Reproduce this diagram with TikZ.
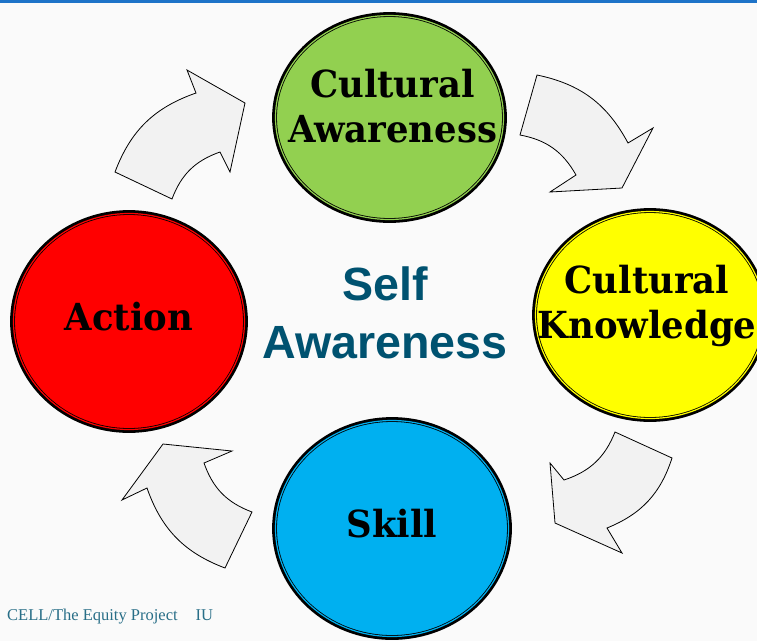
\documentclass[tikz,border=0pt]{standalone}
\usepackage{fontspec}
\setmainfont{Liberation Serif}
\newfontfamily\ringfont[FakeStretch=0.95]{DejaVu Serif}
\newfontfamily\centerfont{Liberation Sans}
\usetikzlibrary{positioning,shapes.geometric}

\definecolor{ringgreen}{RGB}{146,208,80}
\definecolor{ringyellow}{RGB}{255,255,0}
\definecolor{ringred}{RGB}{255,0,0}
\definecolor{ringblue}{RGB}{0,176,240}
\definecolor{selfblue}{RGB}{0,82,112}
\definecolor{footteal}{RGB}{40,110,135}
\definecolor{barblue}{RGB}{30,115,200}

\begin{document}
\begin{tikzpicture}[
    x=1pt, y=-1pt,
    ring/.style={ellipse, draw=black, line width=0.8pt, double=#1, double distance=1.2pt, fill=#1, inner sep=0pt,
      preaction={draw=black, line width=6.8pt}},
    ringtext/.style={font=\ringfont\bfseries\fontsize{37.3}{45}\selectfont, align=center, text=black, inner sep=0pt},
    cyclearrow/.style={draw=black, line width=0.8pt, fill=black!5, line join=miter}
  ]
    % Page and top rule
    \fill[black!2] (0,0) rectangle (757,641);
    \fill[barblue] (0,0) rectangle (757,2.5);
    \useasboundingbox (0,0) rectangle (757,641);
    % Rings
    \node[ring=ringgreen, minimum width=228pt, minimum height=204pt] (aware) at (389.5,117.5) {};
    \node[ring=ringyellow, minimum width=229pt, minimum height=207pt] (know) at (650,315) {};
    \node[ring=ringblue, minimum width=233pt, minimum height=216pt] (skill) at (392,528.5) {};
    \node[ring=ringred, minimum width=231pt, minimum height=216pt] (action) at (129,321.5) {};
    % Ring labels
    \node[ringtext] (awaretxt) at ([xshift=3pt, yshift=11pt]aware.center) {Cultural\\Awareness};
    \node[ringtext] (knowtxt) at ([xshift=-3pt, yshift=9pt]know.center) {Cultural\\Knowledge};
    \node[ringtext] (skilltxt) at ([yshift=4.5pt]skill.center) {Skill};
    \node[ringtext] (actiontxt) at ([yshift=5pt]action.center) {Action};
    % Centre text
    \node[font=\centerfont\bfseries\fontsize{46.6}{58}\selectfont, text=selfblue, align=center, inner sep=0pt] (self) at (385,313) {Self\\Awareness};
    % Curved arrows, clockwise
    \draw[cyclearrow] (115,172) to[bend left=25] (196,93) -- (187,70) -- (245,103) -- (230,172) -- (220,152) to[bend right=25] (172,199) -- cycle;
    \draw[cyclearrow] (537,75) to[bend left=25] (628,143) -- (653,128) -- (622,188) -- (550,192) -- (576,175) to[bend right=25] (520,135) -- cycle;
    \draw[cyclearrow] (672,458) to[bend left=25] (607,528) -- (622,553) -- (555,523) -- (550,463) -- (564,480) to[bend right=25] (615,432) -- cycle;
    \draw[cyclearrow] (225,568) to[bend left=25] (147,488) -- (122,500) -- (163,444) -- (232,451) -- (204,463) to[bend right=25] (252,512) -- cycle;
    % Footer
    \node[anchor=base west, font=\fontsize{16.5}{18}\selectfont, text=footteal, inner sep=0pt] (footer) at (7,620) {CELL/The Equity Project\hspace{18pt}IU};
\end{tikzpicture}
\end{document}
